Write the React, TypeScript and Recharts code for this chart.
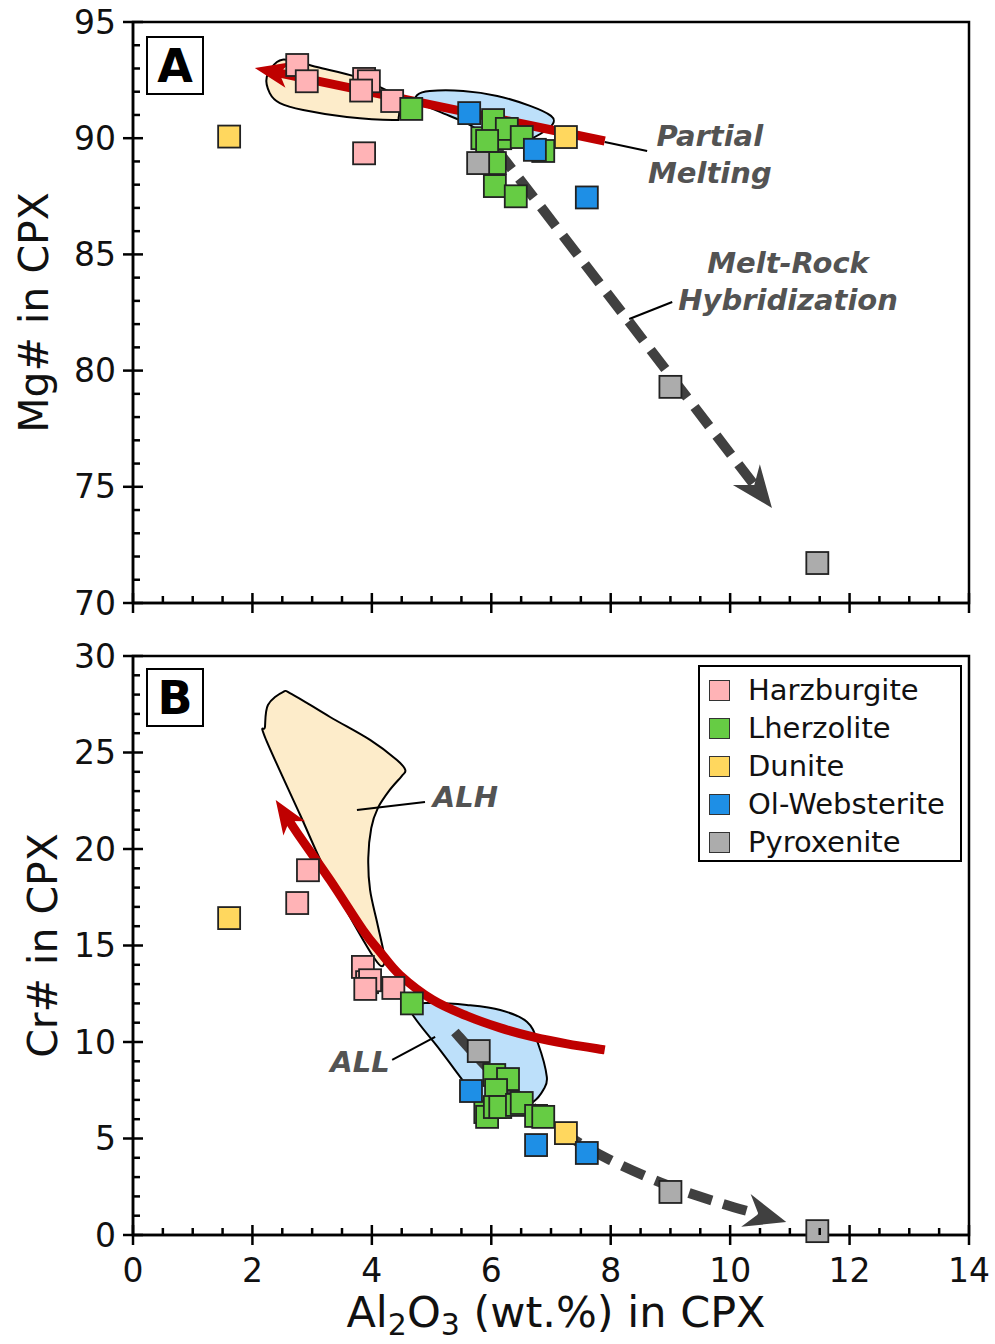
import React from "react";
import { ScatterChart, Scatter, XAxis, YAxis, ReferenceArea, Legend } from "recharts";

type Pt = { x: number; y: number };
type Txt = { x: number; y: number; text: string };

const FONT = "'DejaVu Sans', Verdana, sans-serif";

// rock types (legend order)
const rockNames = ["Harzburgite", "Lherzolite", "Dunite", "Ol-Websterite", "Pyroxenite"];
const rockColors = ["#ffb3b6", "#66cc44", "#ffd75e", "#1e8fe6", "#acacac"];

// ---- panel A : Mg# vs Al2O3 ----
const harzA: Pt[] = [
  { x: 2.75, y: 93.15 }, { x: 2.91, y: 92.45 }, { x: 3.87, y: 92.55 }, { x: 3.95, y: 92.45 },
  { x: 3.82, y: 92.05 }, { x: 4.34, y: 91.6 }, { x: 3.87, y: 89.35 },
];
const lherzA: Pt[] = [
  { x: 4.66, y: 91.26 }, { x: 5.85, y: 90.0 }, { x: 6.15, y: 90.0 }, { x: 6.03, y: 90.78 },
  { x: 6.26, y: 90.4 }, { x: 6.51, y: 90.05 }, { x: 5.93, y: 89.88 }, { x: 6.87, y: 89.45 },
  { x: 6.06, y: 88.93 }, { x: 6.06, y: 87.94 }, { x: 6.41, y: 87.5 },
];
const duniteA: Pt[] = [{ x: 1.61, y: 90.07 }, { x: 7.25, y: 90.05 }];
const olwebA: Pt[] = [{ x: 5.63, y: 91.08 }, { x: 6.73, y: 89.5 }, { x: 7.6, y: 87.45 }];
const pyroxA: Pt[] = [{ x: 5.78, y: 88.93 }, { x: 9.0, y: 79.3 }, { x: 11.46, y: 71.72 }];

const alhFieldA: Pt[] = [
  { x: 2.24, y: 92.63 }, { x: 2.41, y: 93.28 }, { x: 2.63, y: 93.36 }, { x: 3.08, y: 93.06 },
  { x: 3.75, y: 92.63 }, { x: 4.3, y: 91.99 }, { x: 4.44, y: 91.73 }, { x: 4.45, y: 90.91 },
  { x: 4.35, y: 90.78 }, { x: 3.58, y: 90.91 }, { x: 2.85, y: 91.21 }, { x: 2.46, y: 91.51 },
  { x: 2.29, y: 91.94 },
];
const allFieldA: Pt[] = [
  { x: 4.76, y: 91.86 }, { x: 4.97, y: 92.03 }, { x: 5.53, y: 92.03 }, { x: 6.1, y: 91.82 },
  { x: 6.65, y: 91.39 }, { x: 7.0, y: 90.96 }, { x: 7.03, y: 90.61 }, { x: 6.82, y: 90.18 },
  { x: 6.48, y: 89.75 }, { x: 6.2, y: 89.58 }, { x: 5.98, y: 89.92 }, { x: 5.64, y: 90.57 },
  { x: 5.14, y: 91.13 }, { x: 4.77, y: 91.56 },
];
const meltingA: Pt[] = [{ x: 7.9, y: 89.88 }, { x: 2.04, y: 93.02 }];
const hybridA: Pt[] = [{ x: 6.1, y: 89.49 }, { x: 10.7, y: 74.09 }];
const leaderMeltA: Pt[] = [{ x: 7.9, y: 89.84 }, { x: 8.61, y: 89.45 }];
const leaderHybA: Pt[] = [{ x: 8.31, y: 82.22 }, { x: 9.03, y: 82.95 }];
const notesA: Txt[] = [
  { x: 9.66, y: 90.09, text: "Partial" },
  { x: 9.66, y: 88.5, text: "Melting" },
  { x: 10.97, y: 84.63, text: "Melt-Rock" },
  { x: 10.97, y: 83.04, text: "Hybridization" },
];

// ---- panel B : Cr# vs Al2O3 ----
const harzB: Pt[] = [
  { x: 2.93, y: 18.9 }, { x: 2.75, y: 17.2 }, { x: 3.85, y: 13.89 }, { x: 3.92, y: 13.1 },
  { x: 3.97, y: 13.2 }, { x: 3.89, y: 12.75 }, { x: 4.36, y: 12.8 },
];
const lherzB: Pt[] = [
  { x: 4.67, y: 12.0 }, { x: 6.05, y: 8.29 }, { x: 6.28, y: 8.08 }, { x: 6.08, y: 7.51 },
  { x: 5.9, y: 6.37 }, { x: 5.93, y: 6.12 }, { x: 6.06, y: 6.63 }, { x: 6.15, y: 6.63 },
  { x: 6.43, y: 6.74 }, { x: 6.51, y: 6.84 }, { x: 6.75, y: 6.17 }, { x: 6.87, y: 6.12 },
];
const duniteB: Pt[] = [{ x: 1.61, y: 16.42 }, { x: 7.25, y: 5.28 }];
const olwebB: Pt[] = [{ x: 5.66, y: 7.46 }, { x: 6.75, y: 4.66 }, { x: 7.6, y: 4.25 }];
const pyroxB: Pt[] = [{ x: 5.79, y: 9.53 }, { x: 9.0, y: 2.23 }, { x: 11.46, y: 0.2 }];

const alhFieldB: Pt[] = [
  { x: 2.21, y: 26.32 }, { x: 2.26, y: 27.46 }, { x: 2.51, y: 28.13 }, { x: 2.66, y: 28.03 },
  { x: 3.3, y: 26.84 }, { x: 3.97, y: 25.65 }, { x: 4.42, y: 24.61 }, { x: 4.56, y: 24.09 },
  { x: 4.5, y: 23.78 }, { x: 4.3, y: 23.06 }, { x: 4.1, y: 22.12 }, { x: 3.99, y: 21.09 },
  { x: 3.94, y: 19.53 }, { x: 3.97, y: 17.88 }, { x: 4.09, y: 16.17 }, { x: 4.19, y: 14.77 },
  { x: 4.22, y: 14.15 }, { x: 4.05, y: 14.3 }, { x: 3.3, y: 18.39 }, { x: 2.8, y: 21.76 },
  { x: 2.21, y: 25.8 },
];
const allFieldB: Pt[] = [
  { x: 4.64, y: 11.92 }, { x: 5.02, y: 12.02 }, { x: 5.59, y: 11.92 }, { x: 6.15, y: 11.66 },
  { x: 6.6, y: 11.04 }, { x: 6.78, y: 9.95 }, { x: 6.93, y: 8.19 }, { x: 6.87, y: 7.51 },
  { x: 6.7, y: 6.89 }, { x: 6.36, y: 6.37 }, { x: 5.9, y: 6.48 }, { x: 5.53, y: 7.98 },
  { x: 5.14, y: 9.59 }, { x: 4.72, y: 11.24 },
];
const meltingB: Pt[] = [
  { x: 7.9, y: 9.59 }, { x: 7.27, y: 9.9 }, { x: 6.7, y: 10.26 }, { x: 6.15, y: 10.73 },
  { x: 5.59, y: 11.35 }, { x: 5.02, y: 12.18 }, { x: 4.47, y: 13.47 }, { x: 4.14, y: 14.66 },
  { x: 3.85, y: 15.8 }, { x: 3.3, y: 18.39 }, { x: 2.75, y: 20.83 }, { x: 2.39, y: 22.54 },
];
const hybridB: Pt[] = [
  { x: 5.39, y: 10.52 }, { x: 5.81, y: 9.07 }, { x: 6.23, y: 7.77 }, { x: 6.7, y: 6.58 },
  { x: 7.27, y: 5.18 }, { x: 7.99, y: 3.89 }, { x: 8.94, y: 2.59 }, { x: 9.83, y: 1.66 },
  { x: 10.94, y: 0.67 },
];
const leaderAlhB: Pt[] = [{ x: 3.75, y: 22.02 }, { x: 4.89, y: 22.44 }];
const leaderAllB: Pt[] = [{ x: 5.06, y: 10.26 }, { x: 4.34, y: 9.07 }];
const notesStartB: Txt[] = [{ x: 5.02, y: 22.69, text: "ALH" }];
const notesEndB: Txt[] = [{ x: 4.3, y: 8.96, text: "ALL" }];

// axes
const xMajor = [0, 2, 4, 6, 8, 10, 12, 14];
const yMajorA = [70, 75, 80, 85, 90, 95];
const yMajorB = [0, 5, 10, 15, 20, 25, 30];

const withMinor = (major: number[], step: number) => {
  const out: number[] = [];
  for (let i = 0; i < major.length - 1; i++) {
    for (let v = major[i]; v < major[i + 1] - 1e-9; v += step) out.push(+v.toFixed(3));
  }
  out.push(major[major.length - 1]);
  return out;
};

const BEIGE = "#fdecca";
const LIGHTBLUE = "#bde0fa";
const RED = "#bf0000";
const DARK = "#404040";
const NOTE = "#535353";

function smooth(pts: Pt[], closed: boolean) {
  const n = pts.length;
  const get = (i: number) => (closed ? pts[(i + n) % n] : pts[Math.max(0, Math.min(n - 1, i))]);
  let d = `M${pts[0].x},${pts[0].y}`;
  const segs = closed ? n : n - 1;
  for (let i = 0; i < segs; i++) {
    const p0 = get(i - 1), p1 = get(i), p2 = get(i + 1), p3 = get(i + 2);
    const c1x = p1.x + (p2.x - p0.x) / 6, c1y = p1.y + (p2.y - p0.y) / 6;
    const c2x = p2.x - (p3.x - p1.x) / 6, c2y = p2.y - (p3.y - p1.y) / 6;
    d += ` C${c1x},${c1y} ${c2x},${c2y} ${p2.x},${p2.y}`;
  }
  return closed ? d + " Z" : d;
}

// shaft path ending under an arrow head + the head itself
function arrowParts(pts: Pt[], len: number, half: number, notch: number) {
  const tip = pts[pts.length - 1];
  const prev = pts[pts.length - 2];
  const dx = tip.x - prev.x, dy = tip.y - prev.y;
  const L = Math.hypot(dx, dy) || 1;
  const ux = dx / L, uy = dy / L, px = -uy, py = ux;
  const bx = tip.x - ux * len, by = tip.y - uy * len;
  const nx = tip.x - ux * (len - notch), ny = tip.y - uy * (len - notch);
  const shaftPts = [...pts.slice(0, -1), { x: nx + ux * 2, y: ny + uy * 2 }];
  const shaft = pts.length > 2 ? smooth(shaftPts, false) : `M${pts[0].x},${pts[0].y} L${shaftPts[1].x},${shaftPts[1].y}`;
  const head = `M${tip.x},${tip.y} L${bx + px * half},${by + py * half} L${nx},${ny} L${bx - px * half},${by - py * half} Z`;
  return { shaft, head };
}

const noDot = () => <g />;

const fieldSeries = (key: string, data: Pt[], fill: string) => (
  <Scatter key={key} data={data} isAnimationActive={false} legendType="none" shape={noDot}
    line={(p: any) => <path d={smooth(p.points, true)} fill={fill} stroke="#000" strokeWidth={2} />} />
);

const arrowSeries = (key: string, data: Pt[], color: string, dashed: boolean) => (
  <Scatter key={key} data={data} isAnimationActive={false} legendType="none" shape={noDot}
    line={(p: any) => {
      const a = dashed ? arrowParts(p.points, 42, 17, 13) : arrowParts(p.points, 34, 13, 9);
      return (
        <g>
          <path d={a.shaft} fill="none" stroke={color} strokeWidth={dashed ? 10 : 9}
            strokeDasharray={dashed ? "24 12" : undefined} />
          <path d={a.head} fill={color} stroke="none" />
        </g>
      );
    }} />
);

const leaderSeries = (key: string, data: Pt[]) => (
  <Scatter key={key} data={data} isAnimationActive={false} legendType="none" shape={noDot}
    line={(p: any) => <path d={`M${p.points[0].x},${p.points[0].y} L${p.points[1].x},${p.points[1].y}`} stroke="#000" strokeWidth={2} fill="none" />} />
);

const noteSeries = (key: string, data: Txt[], anchor: "start" | "middle" | "end") => (
  <Scatter key={key} data={data} isAnimationActive={false} legendType="none"
    shape={(p: any) => (
      <text x={p.cx} y={p.cy} textAnchor={anchor} dominantBaseline="central" fontFamily={FONT}
        fontWeight="bold" fontStyle="italic" fontSize={29} fill={NOTE}>
        {p.payload?.text ?? p.text}
      </text>
    )} />
);

const square = (color: string) => (p: any) => (
  <rect x={p.cx - 11} y={p.cy - 11} width={22} height={22} fill={color} stroke="#222" strokeWidth={1.8} />
);

const rockSeries = (sets: Pt[][]) =>
  sets.map((d, i) => (
    <Scatter key={rockNames[i]} name={rockNames[i]} data={d} fill={rockColors[i]}
      isAnimationActive={false} shape={square(rockColors[i])} />
  ));

const axisLine = { stroke: "#000", strokeWidth: 2.5 };

const xTick = (showLabel: boolean) => (p: any) => {
  const v = p.payload.value;
  const major = Math.abs(v % 2) < 1e-6;
  return (
    <g>
      <line x1={p.x} x2={p.x} y1={p.y - (major ? 10 : 7)} y2={p.y + (major ? 10 : 0)} stroke="#000" strokeWidth={2.5} />
      {major && showLabel && (
        <text x={p.x} y={p.y + 47} textAnchor="middle" fontFamily={FONT} fontSize={33} fill="#111">{v}</text>
      )}
    </g>
  );
};

const yTick = (p: any) => {
  const v = p.payload.value;
  const major = Math.abs(v % 5) < 1e-6;
  return (
    <g>
      <line x1={p.x - (major ? 10 : 0)} x2={p.x + (major ? 10 : 7)} y1={p.y} y2={p.y} stroke="#000" strokeWidth={2.5} />
      {major && (
        <text x={p.x - 17} y={p.y} textAnchor="end" dominantBaseline="central" fontFamily={FONT} fontSize={33} fill="#111">{v}</text>
      )}
    </g>
  );
};

const yTitle = (text: string, dx: number) => (props: any) => {
  const vb = props.viewBox;
  const cx = vb.x + dx;
  const cy = vb.y + vb.height / 2;
  return (
    <text x={cx} y={cy} transform={`rotate(-90 ${cx} ${cy})`} textAnchor="middle" fontFamily={FONT} fontSize={41} fill="#111">
      {text}
    </text>
  );
};

const xTitle = (props: any) => {
  const vb = props.viewBox;
  return (
    <text x={vb.x + vb.width / 2 + 5} y={vb.y + 92} textAnchor="middle" fontFamily={FONT} fontSize={43} fill="#111">
      Al<tspan dy={8} fontSize={30}>2</tspan><tspan dy={-8}>O</tspan><tspan dy={8} fontSize={30}>3</tspan>
      <tspan dy={-8}> (wt.%) in CPX</tspan>
    </text>
  );
};

function LegendBox() {
  return (
    <div style={{ width: 264, height: 197, boxSizing: "border-box", border: "2px solid #000", background: "#fff", padding: "4px 0 0 9px", fontFamily: FONT }}>
      {rockNames.map((n, i) => (
        <div key={n} style={{ display: "flex", alignItems: "center", height: 38 }}>
          <span style={{ width: 21, height: 21, boxSizing: "border-box", background: rockColors[i], border: "1.5px solid #333", marginRight: 18 }} />
          <span style={{ fontSize: 29, color: "#111", lineHeight: "38px" }}>{n}</span>
        </div>
      ))}
    </div>
  );
}

const panelLabel = (t: string, top: number) => (
  <div style={{ position: "absolute", left: 146, top, width: 58, height: 59, boxSizing: "border-box", border: "2.5px solid #000", background: "#fff",
    display: "flex", alignItems: "center", justifyContent: "center", fontFamily: FONT, fontWeight: "bold", fontSize: 46, color: "#000" }}>
    {t}
  </div>
);

export default function App() {
  const xTicks = withMinor(xMajor, 0.5);
  return (
    <div style={{ position: "absolute", left: 0, top: 0, width: 995, height: 1344, background: "#fff" }}>
      <div style={{ position: "absolute", left: 0, top: 0 }}>
        <ScatterChart width={995} height={640} margin={{ top: 22, right: 26, bottom: 0, left: 33 }}>
          <XAxis type="number" dataKey="x" domain={[0, 14]} ticks={xTicks} interval={0} tickSize={0} tickMargin={0}
            tick={xTick(false)} axisLine={axisLine} height={37} />
          <YAxis type="number" dataKey="y" domain={[70, 95]} ticks={withMinor(yMajorA, 1)} interval={0} tickSize={0} tickMargin={0}
            tick={yTick} axisLine={axisLine} width={100} label={yTitle("Mg# in CPX", 15)} />
          <ReferenceArea x1={0} x2={14} y1={70} y2={95} fill="none" stroke="#000" strokeWidth={2.5} ifOverflow="visible" />
          {fieldSeries("alhA", alhFieldA, BEIGE)}
          {fieldSeries("allA", allFieldA, LIGHTBLUE)}
          {arrowSeries("hybA", hybridA, DARK, true)}
          {arrowSeries("meltA", meltingA, RED, false)}
          {leaderSeries("l1A", leaderMeltA)}
          {leaderSeries("l2A", leaderHybA)}
          {noteSeries("notesA", notesA, "middle")}
          {rockSeries([harzA, lherzA, duniteA, olwebA, pyroxA])}
        </ScatterChart>
      </div>
      <div style={{ position: "absolute", left: 0, top: 616 }}>
        <ScatterChart width={995} height={728} margin={{ top: 40, right: 26, bottom: 0, left: 33 }}>
          <XAxis type="number" dataKey="x" domain={[0, 14]} ticks={xTicks} interval={0} tickSize={0} tickMargin={0}
            tick={xTick(true)} axisLine={axisLine} height={109} label={xTitle} />
          <YAxis type="number" dataKey="y" domain={[0, 30]} ticks={withMinor(yMajorB, 1)} interval={0} tickSize={0} tickMargin={0}
            tick={yTick} axisLine={axisLine} width={100} label={yTitle("Cr# in CPX", 24)} />
          <ReferenceArea x1={0} x2={14} y1={0} y2={30} fill="none" stroke="#000" strokeWidth={2.5} ifOverflow="visible" />
          {fieldSeries("alhB", alhFieldB, BEIGE)}
          {fieldSeries("allB", allFieldB, LIGHTBLUE)}
          {arrowSeries("hybB", hybridB, DARK, true)}
          {arrowSeries("meltB", meltingB, RED, false)}
          {leaderSeries("l1B", leaderAlhB)}
          {leaderSeries("l2B", leaderAllB)}
          {noteSeries("notesStartB", notesStartB, "start")}
          {noteSeries("notesEndB", notesEndB, "end")}
          {rockSeries([harzB, lherzB, duniteB, olwebB, pyroxB])}
          <Legend layout="vertical" align="center" verticalAlign="middle" content={() => <LegendBox />}
            wrapperStyle={{ left: 698, top: 49, width: 264, height: 197 }} />
        </ScatterChart>
      </div>
      {panelLabel("A", 36)}
      {panelLabel("B", 668)}
    </div>
  );
}
